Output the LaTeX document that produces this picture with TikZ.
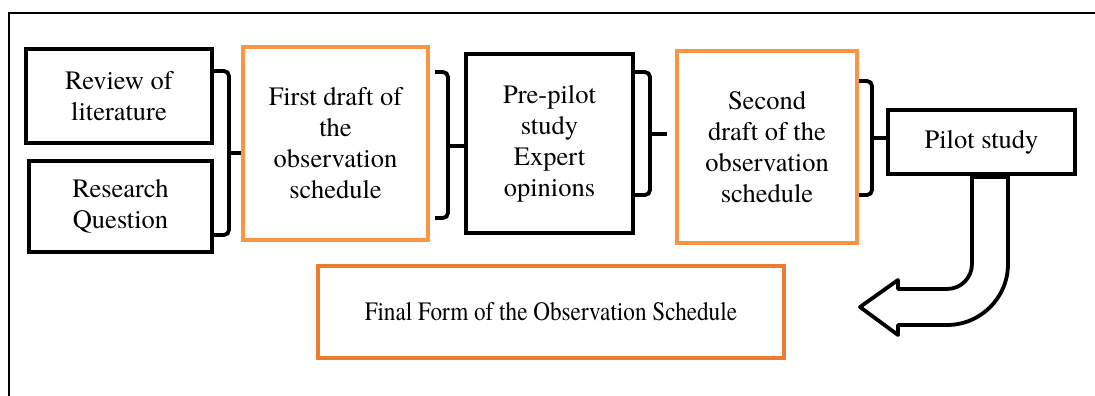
\documentclass[tikz,border=0pt]{standalone}
\usepackage{graphicx}
\usepackage{fontspec}
\setmainfont{texgyretermes}[Extension=.otf, UprightFont=*-regular, BoldFont=*-bold, ItalicFont=*-italic, BoldItalicFont=*-bolditalic]
\newfontfamily\tnr{texgyretermes}[Extension=.otf, UprightFont=*-regular]
\definecolor{orangeA}{HTML}{F79646}
\definecolor{orangeB}{HTML}{ED7D31}
\tikzset{
  box/.style={draw=black, line width=3.8pt, fill=white, align=center, inner sep=0pt,
    font=\tnr\fontsize{26.5}{31}\selectfont},
  obox/.style={box, draw=orangeA, line width=4pt},
  fbox/.style={box, draw=orangeB, line width=3.5pt},
  brk/.style={draw=black, line width=3.8pt, rounded corners=5pt},
  tick/.style={draw=black, line width=3.8pt},
  bigarrow/.style={draw=black, line width=3.8pt, fill=white, line join=round}
}
\begin{document}
\begin{tikzpicture}[x=1pt, y=-1pt]
\useasboundingbox (0,0) rectangle (1095,396);
% outer frame (only top and left visible)
\draw[line width=2.5pt] (9,396) -- (9,13) -- (1095,13);

\node[box,  minimum width=186pt, minimum height=94pt]  (rev) at (119,96)    {Review of\\literature};
\node[box,  minimum width=183pt, minimum height=91pt]  (rq)  at (120.5,206.5) {Research\\Question};
\node[obox, minimum width=185pt, minimum height=193pt] (fd)  at (335.5,143.5) {First draft of\\the\\observation\\schedule};
\node[box,  minimum width=167pt, minimum height=179pt] (pp)  at (549.5,143.5) {Pre-pilot\\study\\Expert\\opinions};
\node[obox, minimum width=180pt, minimum height=192pt] (sd)  at (767,147)    {Second\\draft of the\\observation\\schedule};
\node[box,  minimum width=187pt, minimum height=64pt]  (ps)  at (981.5,142)  {Pilot study};
\node[fbox, minimum width=466pt, minimum height=92pt]  (ff)  at (551,312)    {\scalebox{0.875}[1]{Final Form of the Observation Schedule}};

% bracket 1
\draw[brk] ([yshift=25pt]rev.east) -- (229,71) -- (229,235) -- ([yshift=-28.5pt]rq.east);
\draw[tick] (229,153) -- (fd.west |- 0,153);
% bracket 2
\draw[brk] ([xshift=5pt,yshift=71.5pt]fd.east) -- (448,72) -- (448,218) -- ([xshift=5pt,yshift=-74.5pt]fd.east);
\draw[tick] (448,146) -- (pp.west |- 0,146);
% bracket 3
\coordinate (t3) at (667,134);
\draw[brk] ([yshift=71.5pt]pp.east) -- (650,72) -- (650,195) -- ([yshift=-51.5pt]pp.east);
\draw[tick] (650,134) -- (t3);
% bracket 4
\draw[brk] ([yshift=66pt]sd.east) -- (872,81) -- (872,195) -- ([yshift=-48pt]sd.east);
\draw[tick] (872,138) -- (ps.west |- 0,138);

% curved block arrow from Pilot study towards Final Form
\draw[bigarrow] (972,176) -- (972,264) arc[start angle=0, end angle=90, radius=25]
  -- (898,289) -- (898,280) -- (860,307) -- (898,335) -- (898,325)
  -- (947,325) arc[start angle=90, end angle=0, radius=61]
  -- (1008,176) -- cycle;
\draw[line width=5pt] (972,176) -- (1008,176);
\end{tikzpicture}
\end{document}
